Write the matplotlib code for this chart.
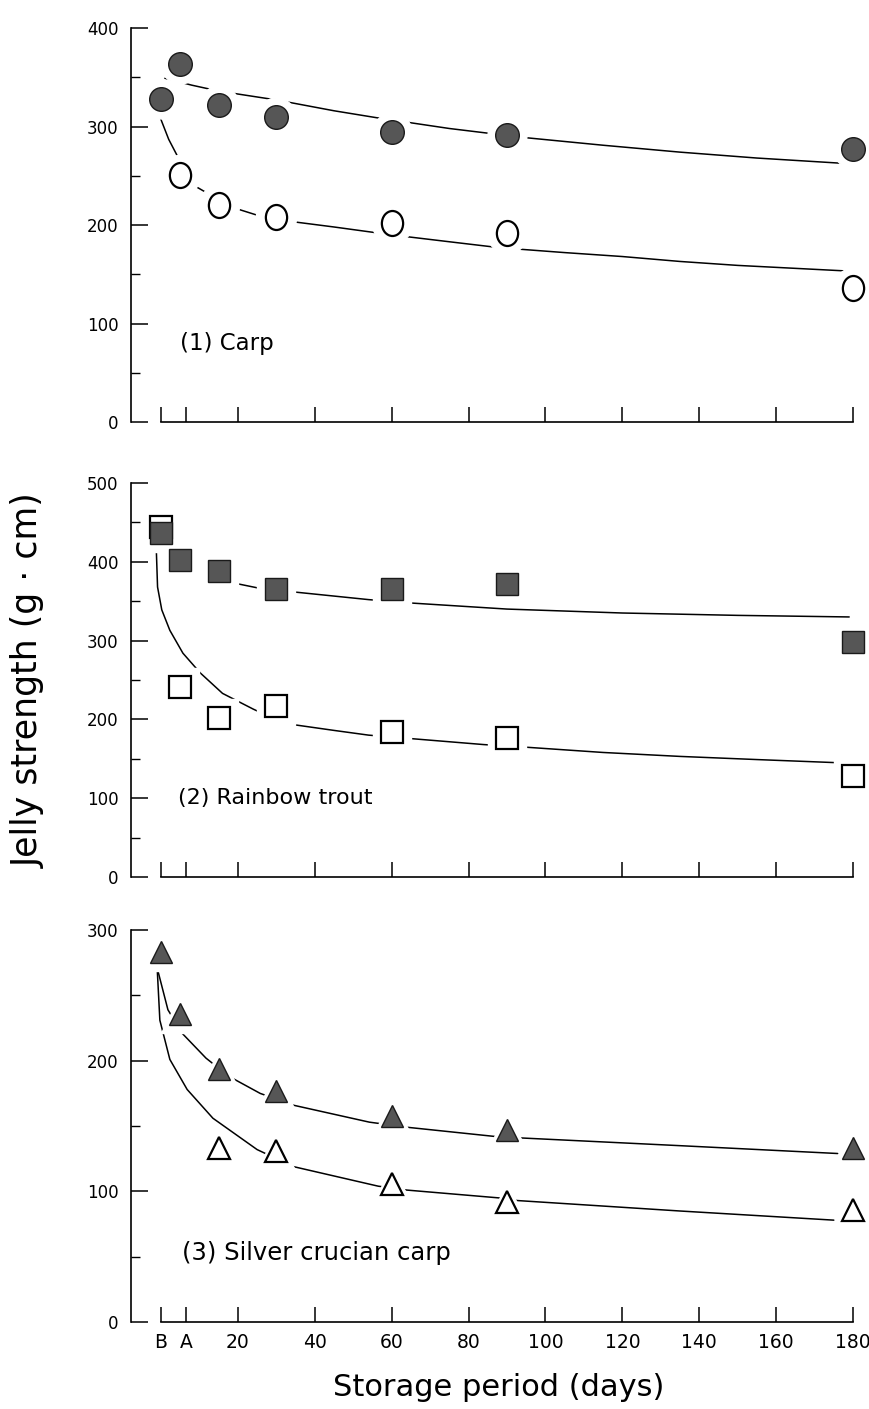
import matplotlib
matplotlib.use('Agg')
import matplotlib.pyplot as plt
from matplotlib.path import Path
from matplotlib.transforms import Affine2D
from matplotlib.ticker import MultipleLocator

# storage days of the measurements (B = before, A = after freezing)
days = [0, 5, 15, 30, 60, 90, 180]
tick_pos = [0, 6.5, 20, 40, 60, 80, 100, 120, 140, 160, 180]
tick_labels = ['B', 'A', '20', '40', '60', '80', '100', '120', '140', '160', '180']

# (1) carp
carp_filled = [328, 363, 322, 310, 294, 291, 277]
carp_open_days = [5, 15, 30, 60, 90, 180]
carp_open = [251, 220, 208, 202, 192, 136]
carp_filled_fit_x = [1, 8, 15, 30, 45, 56, 75, 94, 115, 135, 155, 180]
carp_filled_fit_y = [349, 342, 336, 327, 316, 309, 298, 289, 281, 274, 268, 262]
carp_open_fit_x = [-0.3, 2, 4.4, 7.3, 12.2, 19.3, 25, 35, 45, 60, 75, 88, 105, 120, 135, 150, 165, 180]
carp_open_fit_y = [310, 287, 269, 243, 232, 217, 210, 203, 198, 190, 183, 177, 172, 168, 163, 159, 156, 153]

# (2) rainbow trout
trout_filled = [436, 402, 388, 366, 366, 372, 298]
trout_open = [444, 241, 202, 217, 184, 176, 128]
trout_filled_fit_x = [1, 3, 7, 12, 19, 25, 34, 54, 64, 90, 120, 150, 179]
trout_filled_fit_y = [421, 411, 396, 385, 373, 367, 362, 352, 348, 340, 335, 332, 330]
trout_open_fit_x = [-1.2, -0.9, 0.2, 2.3, 5.7, 10.2, 16, 24, 32, 45, 54, 64, 84, 94, 115, 135, 155, 176]
trout_open_fit_y = [412, 368, 339, 313, 284, 259, 233, 213, 195, 186, 180, 176, 168, 165, 158, 153, 149, 145]

# (3) silver crucian carp
silver_filled = [283, 236, 194, 177, 158, 147, 133]
silver_open_days = [15, 30, 60, 90, 180]
silver_open = [133, 131, 106, 92, 86]
silver_filled_fit_x = [-1, 1.8, 5.5, 11.7, 17.7, 25.8, 34.4, 54.2, 64.3, 87, 93, 135, 176]
silver_filled_fit_y = [271, 239, 221, 202, 188, 175, 166, 153, 149, 142, 141, 135, 129]
silver_open_fit_x = [-1, -0.3, 2.3, 6.8, 13.5, 25, 34.4, 56.5, 64, 88, 92.7, 135, 175]
silver_open_fit_y = [271, 231, 201, 178, 156, 132, 119, 104, 101, 95, 93, 85, 78]

FILL = '#565656'
EDGE = '#1a1a1a'
oval = Path.unit_circle().transformed(Affine2D().scale(0.85, 1.0))


def points(ax, x, y, marker, ms, filled, z):
    # white halo so the fitted line breaks around every symbol
    halo = 'o' if marker is oval else marker
    ax.plot(x, y, ls='none', marker=halo, ms=ms + 11, mfc='white', mec='white',
            zorder=2.3, clip_on=False)
    if filled:
        ax.plot(x, y, ls='none', marker=marker, ms=ms, mfc=FILL, mec=EDGE, mew=1.0,
                zorder=z, clip_on=False)
    else:
        ax.plot(x, y, ls='none', marker=marker, ms=ms, mfc='white', mec='black', mew=1.6,
                zorder=z, clip_on=False)


def curve(ax, x, y):
    ax.plot(x, y, color='black', lw=1.1, zorder=2.1, solid_capstyle='round', clip_on=False)


fig = plt.figure(figsize=(8.7, 14.09), dpi=100)
left, width = 0.1506, 0.8299
boxes = [(0.7005, 0.2796), (0.3776, 0.2796), (0.0617, 0.2782)]
ymaxes = [400, 500, 300]
axes = []
for (bottom, height), ymax in zip(boxes, ymaxes):
    ax = fig.add_axes([left, bottom, width, height])
    ax.set_xlim(-7.8, 180)
    ax.set_ylim(0, ymax)
    ax.spines['top'].set_visible(False)
    ax.spines['right'].set_visible(False)
    ax.spines['left'].set_bounds(0, ymax)
    ax.spines['bottom'].set_bounds(0, 180)
    for s in ('left', 'bottom'):
        ax.spines[s].set_linewidth(1.2)
    ax.set_axisbelow(False)
    ax.yaxis.set_major_locator(MultipleLocator(100))
    ax.yaxis.set_minor_locator(MultipleLocator(50))
    ax.tick_params(axis='y', which='major', direction='in', length=12, width=1.1,
                   pad=9, labelsize=12)
    ax.tick_params(axis='y', which='minor', direction='in', length=6.5, width=1.0)
    ax.set_xticks(tick_pos)
    ax.tick_params(axis='x', which='major', direction='in', length=11, width=1.1,
                   pad=8, labelsize=13.5)
    ax.set_xticklabels(tick_labels)
    axes.append(ax)

ax1, ax2, ax3 = axes
ax1.tick_params(axis='x', labelbottom=False)
ax2.tick_params(axis='x', labelbottom=False)

# (1) carp
curve(ax1, carp_filled_fit_x, carp_filled_fit_y)
curve(ax1, carp_open_fit_x, carp_open_fit_y)
points(ax1, carp_open_days, carp_open, oval, 18, False, 3)
points(ax1, days, carp_filled, 'o', 17, True, 3.1)
ax1.text(0.068, 0.20, '(1) Carp', transform=ax1.transAxes, fontsize=16.5, va='center')

# (2) rainbow trout
curve(ax2, trout_filled_fit_x, trout_filled_fit_y)
curve(ax2, trout_open_fit_x, trout_open_fit_y)
points(ax2, days, trout_open, 's', 16, False, 3)
points(ax2, days, trout_filled, 's', 16, True, 3.1)
ax2.text(0.065, 0.20, '(2) Rainbow trout', transform=ax2.transAxes, fontsize=16, va='center')

# (3) silver crucian carp
curve(ax3, silver_filled_fit_x, silver_filled_fit_y)
curve(ax3, silver_open_fit_x, silver_open_fit_y)
points(ax3, silver_open_days, silver_open, '^', 16, False, 3)
points(ax3, days, silver_filled, '^', 16, True, 3.1)
ax3.text(0.071, 0.176, '(3) Silver crucian carp', transform=ax3.transAxes, fontsize=17.5,
         va='center')

fig.text(0.033, 0.517, 'Jelly strength (g \u00b7 cm)', rotation=90, fontsize=25,
         ha='center', va='center')
fig.text(0.573, 0.015, 'Storage period (days)', fontsize=22, ha='center', va='center')

fig.savefig('out.png', dpi=100, facecolor='white')
